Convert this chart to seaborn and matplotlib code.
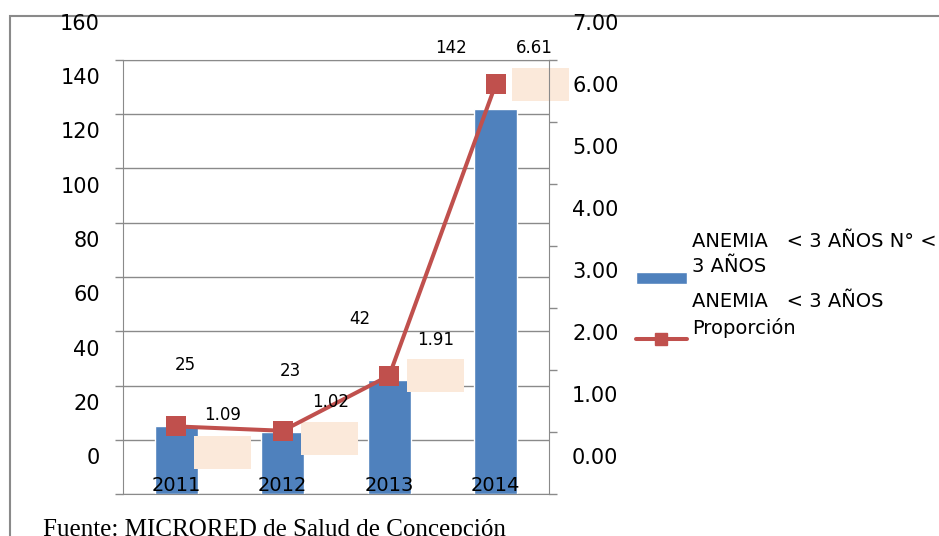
import numpy as np
import pandas as pd
import matplotlib
matplotlib.use("Agg")
import matplotlib.pyplot as plt
import seaborn as sns
from matplotlib.lines import Line2D
from matplotlib.patches import Patch, Rectangle
from matplotlib.offsetbox import AnnotationBbox, DrawingArea
from matplotlib.legend_handler import HandlerPatch, HandlerLine2D
from matplotlib.transforms import ScaledTranslation

# --- data ---
years = ["2011", "2012", "2013", "2014"]
anemia_count = [25, 23, 42, 142]          # ANEMIA < 3 AÑOS N°
anemia_prop = [1.09, 1.02, 1.91, 6.61]    # ANEMIA < 3 AÑOS Proporción
left_ticks = [0, 20, 40, 60, 80, 100, 120, 140, 160]
right_ticks = [0, 1, 2, 3, 4, 5, 6, 7]
legend_labels = ["ANEMIA   < 3 AÑOS N° <\n3 AÑOS", "ANEMIA   < 3 AÑOS\nProporción"]
source_note = "Fuente: MICRORED de Salud de Concepción"

# label placement (pixel offsets, Excel put them in odd spots)
count_label_dx = [9, 8, -29, -45]
prop_label_off = [(46, 11), (48, 29), (46, 36), (39, 36)]
empty_box_off = [(46, -26), (47, -8), (46, 0), (45, 0)]

BAR = "#4F81BD"
LINE = "#C0504D"
GRID = "#8A8A8A"
PEACH = "#FBE9DA"

sns.set_style("white")
plt.rcParams["font.family"] = ["DejaVu Sans"]
plt.rcParams["text.color"] = "black"

W, H = 939, 536
fig = plt.figure(figsize=(W / 100, H / 100), dpi=100)
ax = fig.add_axes([123 / W, 1 - 494 / H, 426 / W, 434 / H])

df = pd.DataFrame({"year": years, "count": anemia_count, "prop": anemia_prop})
sns.barplot(data=df, x="year", y="count", color=BAR, saturation=1, width=0.4, ax=ax)

ax2 = ax.twinx()
sns.lineplot(x=np.arange(len(df)), y=df["prop"], ax=ax2, color=LINE, linewidth=2.9,
             marker="s", markersize=14, markeredgewidth=0, legend=False)

ax.set_xlim(-0.5, len(years) - 0.5)
ax.set_ylim(left_ticks[0], left_ticks[-1])
ax2.set_ylim(right_ticks[0], right_ticks[-1])
for a in (ax, ax2):
    a.set_xlabel("")
    a.set_ylabel("")

# y ticks
ax.set_yticks(left_ticks)
ax.set_yticklabels([str(t) for t in left_ticks])
ax.tick_params(axis="y", length=5.8, width=1, color=GRID, labelcolor="black",
               pad=10.8, labelsize=15)
ax2.set_yticks(right_ticks)
ax2.set_yticklabels([f"{t:.2f}" for t in right_ticks])
ax2.tick_params(axis="y", length=5.8, width=1, color=GRID, labelcolor="black",
                pad=10.8, labelsize=15)

# x ticks: boundary marks on ax, year labels on ax2 so they sit on top of the bars
ax2.xaxis.set_visible(True)
ax2.set_xticks(range(len(years)))
ax2.set_xticklabels(years)
ax2.set_xticks(np.arange(-0.5, len(years)), minor=True)
ax2.tick_params(axis="x", which="major", length=0, pad=-13, labelsize=14, labelcolor="black",
                bottom=True, labelbottom=True, top=False, labeltop=False)
ax2.tick_params(axis="x", which="minor", length=0)
ax.tick_params(axis="x", which="major", length=0, labelbottom=False)
ax.tick_params(axis="x", which="minor", length=6.5, width=1, color=GRID)

# the y tick labels sit ~38 px above their ticks in the original
shift = ScaledTranslation(0, 38 / 100, fig.dpi_scale_trans)
for lab in ax.get_yticklabels() + ax2.get_yticklabels():
    lab.set_transform(lab.get_transform() + shift)

ax.grid(axis="y", color=GRID, linewidth=1)
ax.set_axisbelow(True)
for name, sp in ax.spines.items():
    sp.set_visible(name in ("left", "bottom", "top"))
    sp.set_color(GRID)
for name, sp in ax2.spines.items():
    sp.set_visible(name == "right")
    sp.set_color(GRID)

# data labels
for i, v in enumerate(anemia_count):
    ax.annotate(str(v), (i, v), xytext=(count_label_dx[i], 61), textcoords="offset pixels",
                ha="center", va="center", fontsize=12)
for i, v in enumerate(anemia_prop):
    dx, dy = prop_label_off[i]
    ax2.annotate(f"{v:.2f}", (i, v), xytext=(dx, dy), textcoords="offset pixels",
                 ha="center", va="center", fontsize=12)
    bx, by = empty_box_off[i]
    da = DrawingArea(41, 23.8)
    da.add_artist(Rectangle((0, 0), 41, 23.8, facecolor=PEACH, edgecolor="none"))
    ab = AnnotationBbox(da, (i, v), xybox=(bx, by), boxcoords="offset pixels",
                        box_alignment=(0.5, 0.5), frameon=False, pad=0, zorder=1)
    ax2.add_artist(ab)

# legend: Excel puts the key below the middle of the two-line label
drop = ScaledTranslation(0, -23 / 100, fig.dpi_scale_trans)


class DropPatch(HandlerPatch):
    def create_artists(self, legend, orig, xd, yd, w, h, fs, trans):
        return super().create_artists(legend, orig, xd, yd, w, h, fs, trans + drop)


class DropLine(HandlerLine2D):
    def create_artists(self, legend, orig, xd, yd, w, h, fs, trans):
        return super().create_artists(legend, orig, xd, yd, w, h, fs, trans + drop)


handles = [Patch(facecolor=BAR),
           Line2D([], [], color=LINE, linewidth=2.9, marker="s", markersize=9)]
leg = fig.legend(handles, legend_labels, loc="upper left",
                 bbox_to_anchor=(636 / W, 1 - 232 / H), frameon=False, fontsize=14,
                 handlelength=2.6, handleheight=0.6, handletextpad=0.3,
                 labelspacing=0.8, borderpad=0, borderaxespad=0,
                 handler_map={Patch: DropPatch(), Line2D: DropLine()})
for t in leg.get_texts():
    t.set_linespacing(1.42)

# outer frame and source note
fig.add_artist(Rectangle((10 / W, -0.05), 1.0, 1 - 16 / H + 0.05, transform=fig.transFigure,
                         fill=False, edgecolor=GRID, linewidth=1.5, zorder=0))
fig.text(43 / W, 0.0, source_note, family="Liberation Serif", fontsize=18, va="baseline")

fig.savefig("out.png", dpi=100)
